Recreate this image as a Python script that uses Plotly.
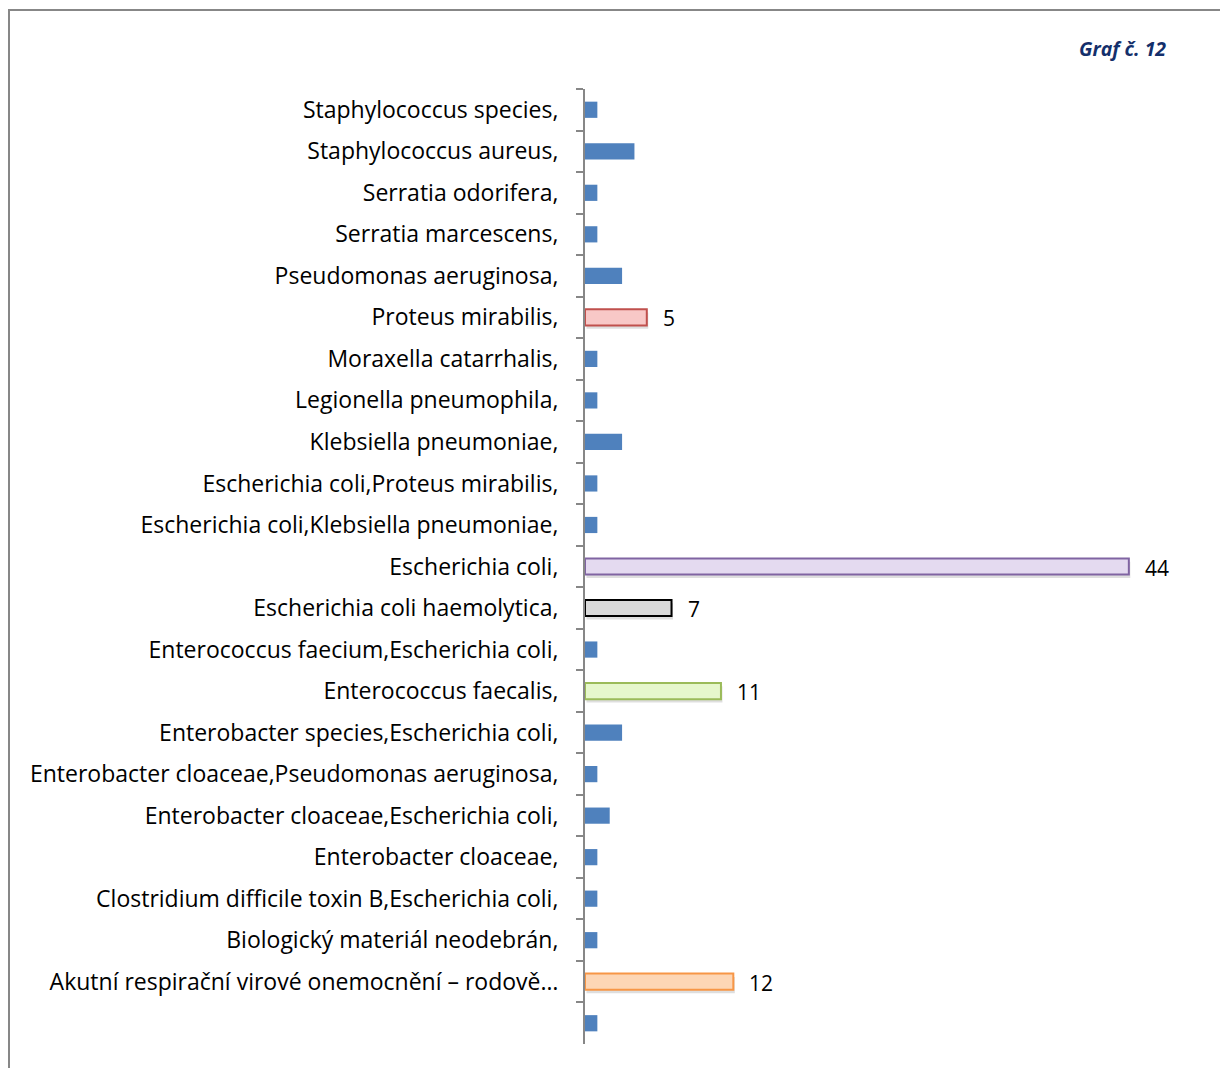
import plotly.graph_objects as go

# Categories listed top to bottom
categories = [
    "Staphylococcus species,",
    "Staphylococcus aureus,",
    "Serratia odorifera,",
    "Serratia marcescens,",
    "Pseudomonas aeruginosa,",
    "Proteus mirabilis,",
    "Moraxella catarrhalis,",
    "Legionella pneumophila,",
    "Klebsiella pneumoniae,",
    "Escherichia coli,Proteus mirabilis,",
    "Escherichia coli,Klebsiella pneumoniae,",
    "Escherichia coli,",
    "Escherichia coli haemolytica,",
    "Enterococcus faecium,Escherichia coli,",
    "Enterococcus faecalis,",
    "Enterobacter species,Escherichia coli,",
    "Enterobacter cloaceae,Pseudomonas aeruginosa,",
    "Enterobacter cloaceae,Escherichia coli,",
    "Enterobacter cloaceae,",
    "Clostridium difficile toxin B,Escherichia coli,",
    "Biologický materiál neodebrán,",
    "Akutní respirační virové onemocnění – rodově…",
    " ",
]
values = [1, 4, 1, 1, 3, 5, 1, 1, 3, 1, 1, 44, 7, 1, 11, 3, 1, 2, 1, 1, 1, 12, 1]

# Highlighted categories: fill colour, outline colour
highlights = {
    "Proteus mirabilis,": ("#F8C8C7", "#C0504D"),
    "Escherichia coli,": ("#E4DAF0", "#8064A2"),
    "Escherichia coli haemolytica,": ("#D9D9D9", "#000000"),
    "Enterococcus faecalis,": ("#E6F7CC", "#9BBB59"),
    "Akutní respirační virové onemocnění – rodově…": ("#FDD6B5", "#F79646"),
}

base_fill = "#4F81BD"
label_font = "Open Sans, sans-serif"
bar_w = 0.39

fills, lines, lwidths = [], [], []
for c in categories:
    if c in highlights:
        f, l = highlights[c]
        fills.append(f)
        lines.append(l)
        lwidths.append(2)
    else:
        fills.append(base_fill)
        lines.append(base_fill)
        lwidths.append(0)

hl_cats = [c for c in categories if c in highlights]
hl_vals = [v for c, v in zip(categories, values) if c in highlights]

fig = go.Figure()

# soft drop shadow under the highlighted bars
fig.add_trace(go.Bar(
    x=hl_vals,
    y=hl_cats,
    orientation="h",
    width=bar_w,
    offset=-bar_w / 2 + 0.08,
    base=0.12,
    marker=dict(color="rgba(0,0,0,0.13)", line=dict(width=0)),
    hoverinfo="skip",
))

fig.add_trace(go.Bar(
    x=values,
    y=categories,
    orientation="h",
    width=bar_w,
    offset=-bar_w / 2,
    marker=dict(color=fills, line=dict(color=lines, width=lwidths)),
    cliponaxis=False,
    hoverinfo="x+y",
))

# value labels for the highlighted bars
for c, v in zip(hl_cats, hl_vals):
    fig.add_annotation(x=v, y=c, text=str(v), showarrow=False,
                       xanchor="left", yanchor="middle", xshift=14, yshift=-1,
                       font=dict(family=label_font, size=21, color="#000000"))

W, H = 1220, 1068
L, R, T, B = 585, 17, 89, 24
pw = W - L - R
ph = H - T - B

def px_to_paper_x(px):
    return (px - L) / pw

def px_to_paper_y(py):
    return 1 - (py - T) / ph

# outer frame (top and left edges visible)
fig.add_shape(type="rect", xref="paper", yref="paper",
              x0=px_to_paper_x(9), x1=px_to_paper_x(1240),
              y0=px_to_paper_y(1090), y1=px_to_paper_y(10),
              line=dict(color="#878787", width=2), fillcolor="rgba(0,0,0,0)",
              layer="below")

fig.add_annotation(text="<b><i>Graf č. 12</i></b>", xref="paper", yref="paper",
                   x=px_to_paper_x(1168), y=px_to_paper_y(49),
                   xanchor="right", yanchor="middle", showarrow=False,
                   font=dict(family=label_font, size=19.5, color="#142F6B"))

fig.update_layout(
    width=W, height=H,
    margin=dict(l=L, r=R, t=T, b=B, autoexpand=False),
    plot_bgcolor="white", paper_bgcolor="white",
    showlegend=False,
    barmode="overlay",
    xaxis=dict(range=[0, 50], visible=False, showgrid=False, zeroline=False),
    yaxis=dict(
        type="category",
        categoryorder="array",
        categoryarray=categories,
        autorange="reversed",
        showline=True, linecolor="#878787", linewidth=2,
        ticks="outside", ticklen=7, tickwidth=2, tickcolor="#878787",
        tickson="boundaries",
        ticklabelstandoff=20,
        showgrid=False, zeroline=False,
        tickfont=dict(family=label_font, size=23, color="#000000"),
    ),
)

fig.write_html("out.html")
